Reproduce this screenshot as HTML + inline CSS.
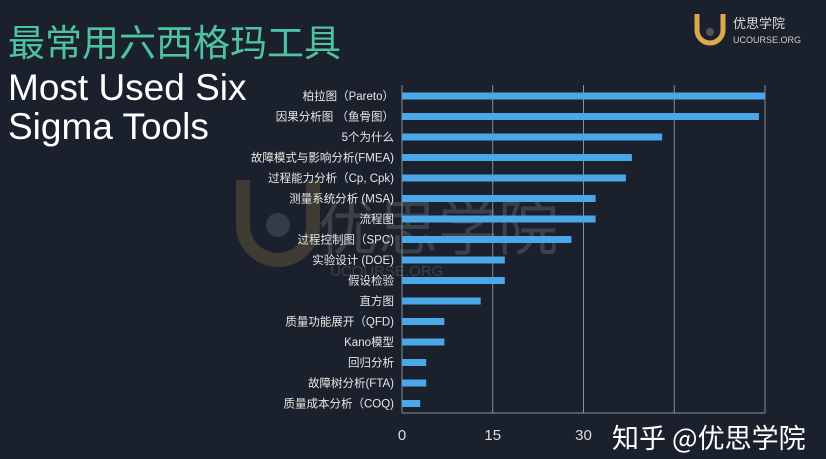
<!DOCTYPE html>
<html><head><meta charset="utf-8"><style>
body{margin:0;background:#1b212c;width:826px;height:454px;overflow:hidden;font-family:"Liberation Sans","Noto Sans CJK SC",sans-serif;}
</style></head><body>
<svg width="826" height="454" viewBox="0 0 826 454" xmlns="http://www.w3.org/2000/svg">
<rect width="826" height="454" fill="#1b212c"/>
<g opacity="0.2">
<path d="M243 180 v45 a35 35 0 0 0 70 0 v-45" fill="none" stroke="#c9a44a" stroke-width="14"/>
<circle cx="278" cy="225" r="12" fill="#9aa"/>
<text x="318" y="250" font-size="60" fill="#bbb" font-family="Noto Sans CJK SC, sans-serif">优思学院</text>
<text x="330" y="276" font-size="15" fill="#bbb">UCOURSE.ORG</text>
</g>
<text x="8" y="56" font-size="37" fill="#4fc3a1" font-family="Noto Sans CJK SC, sans-serif">最常用六西格玛工具</text>
<text x="8" y="100" font-size="37" fill="#fff">Most Used Six</text>
<text x="8" y="139" font-size="37" fill="#fff">Sigma Tools</text>
<g>
<path d="M697 14 v16 a13 13 0 0 0 26 0 v-16" fill="none" stroke="#d9a94a" stroke-width="5"/>
<circle cx="710" cy="32" r="4" fill="#555"/>
<text x="733" y="28" font-size="13" fill="#ddd" font-family="Noto Sans CJK SC, sans-serif">优思学院</text>
<text x="733" y="43" font-size="9" fill="#ccc">UCOURSE.ORG</text>
</g>
<g id="grid"></g><g id="bars"></g><g id="labels"></g><g id="ticks"></g>
<text x="612" y="448" font-size="27" fill="#fff" font-family="Noto Sans CJK SC, sans-serif">知乎 @优思学院</text>
</svg>
<script>
const categories=["柏拉图（Pareto）","因果分析图 （鱼骨图）","5个为什么","故障模式与影响分析(FMEA)","过程能力分析（Cp, Cpk)","测量系统分析 (MSA)","流程图","过程控制图（SPC)","实验设计 (DOE)","假设检验","直方图","质量功能展开（QFD)","Kano模型","回归分析","故障树分析(FTA)","质量成本分析（COQ)"];
const values=[60,59,43,38,37,32,32,28,17,17,13,7,7,4,4,3];
const tickValues=[0,15,30,45,60];
const tickLabels=["0","15","30","",""];
const NS="http://www.w3.org/2000/svg";
const x0=402,x1=765,maxV=60,top0=96,step=20.5,yTop=85,yBot=413;
const xs=v=>x0+(v/maxV)*(x1-x0);
const ys=i=>top0+i*step;
function mk(t,a,p){const e=document.createElementNS(NS,t);for(const k in a)e.setAttribute(k,a[k]);p.appendChild(e);return e;}
const g=document.getElementById('grid'),b=document.getElementById('bars'),l=document.getElementById('labels'),tk=document.getElementById('ticks');
tickValues.forEach((v,i)=>{
 const ln=mk('line',{x1:xs(v),x2:xs(v),y1:yTop,y2:yBot,stroke:'#8a8f98','stroke-width':1},g);
 
 
 if(tickLabels[i]){const t=mk('text',{x:xs(v),y:440,'font-size':15,fill:'#ddd','text-anchor':'middle'},tk);t.textContent=tickLabels[i];
 
 }
});
const bl=mk('line',{x1:x0,x2:x1,y1:yBot,y2:yBot,stroke:'#8a8f98','stroke-width':1},g);


categories.forEach((c,i)=>{
 const r=mk('rect',{x:x0,y:ys(i)-3.5,width:xs(values[i])-x0,height:7,fill:'#4aa8e8'},b);
 
 
 const t=mk('text',{x:394,y:ys(i)+4,'font-size':11.5,fill:'#e6e6e6','text-anchor':'end'},l);t.textContent=c;
 
 
});
</script>
</body></html>
